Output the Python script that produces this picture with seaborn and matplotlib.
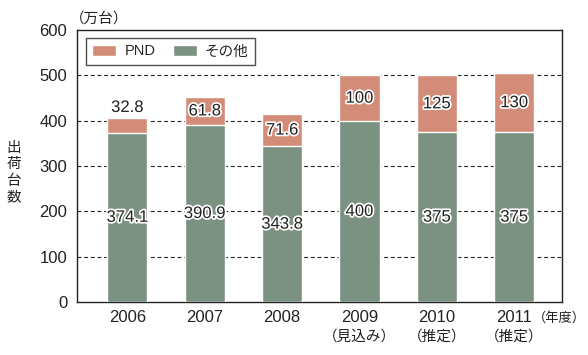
import pandas as pd
import matplotlib
matplotlib.use("Agg")
import matplotlib.pyplot as plt
import matplotlib.patheffects as pe
from matplotlib.patches import Patch
import seaborn as sns

# data (万台)
years = ["2006", "2007", "2008", "2009", "2010", "2011"]
year_notes = ["", "", "", "（見込み）", "（推定）", "（推定）"]
other_units = [374.1, 390.9, 343.8, 400, 375, 375]
pnd_units = [32.8, 61.8, 71.6, 100, 125, 130]
other_labels = ["374.1", "390.9", "343.8", "400", "375", "375"]
pnd_labels = ["32.8", "61.8", "71.6", "100", "125", "130"]

PND_COLOR = "#d38c77"
OTHER_COLOR = "#7b9181"
INK = "#222222"

sns.set_style("white")
plt.rcParams["font.family"] = ["Liberation Sans", "Noto Sans CJK JP", "DejaVu Sans"]

df = pd.DataFrame({
    "year": years,
    "other": other_units,
    "pnd": pnd_units,
})
df["total"] = df["other"] + df["pnd"]

fig = plt.figure(figsize=(5.88, 3.55), dpi=100)
ax = fig.add_axes([0.131, 0.149, 0.825, 0.766])

# stacked bars: total first (PND colour), then other on top of it
sns.barplot(data=df, x="year", y="total", color=PND_COLOR, width=0.52,
            saturation=1, ax=ax, zorder=3)
sns.barplot(data=df, x="year", y="other", color=OTHER_COLOR, width=0.52,
            saturation=1, ax=ax, zorder=3)

ax.set_ylim(0, 600)
ax.set_xlim(-0.65, 5.62)
ax.set_yticks(range(0, 601, 100))
ax.tick_params(axis="both", length=0, labelsize=12, colors=INK)
ax.tick_params(axis="y", pad=7)
ax.tick_params(axis="x", pad=6)
ax.set_xticks(range(len(years)))
ax.set_xticklabels(years)
ax.set_xlabel("")
ax.set_ylabel("")

for y in range(100, 600, 100):
    ax.axhline(y, color=INK, linestyle=(0, (3.5, 2.5)), linewidth=0.8, zorder=1)

for s in ax.spines.values():
    s.set_visible(True)
    s.set_color(INK)
    s.set_linewidth(1.0)

halo = [pe.withStroke(linewidth=2.5, foreground="white")]
for i, row in df.iterrows():
    ax.text(i, row["other"] / 2, other_labels[i], ha="center", va="center",
            fontsize=12, color=INK, path_effects=halo, zorder=5)
    if row["pnd"] < 50:
        ax.text(i, row["total"] + 6, pnd_labels[i], ha="center", va="bottom",
                fontsize=12, color=INK, path_effects=halo, zorder=5)
    else:
        ax.text(i, row["other"] + row["pnd"] / 2, pnd_labels[i], ha="center",
                va="center", fontsize=12, color=INK, path_effects=halo,
                zorder=5)

# second line of the x labels
for i, note in enumerate(year_notes):
    if note:
        ax.annotate(note, xy=(i, 0), xycoords=("data", "axes fraction"),
                    xytext=(0, -20), textcoords="offset points",
                    ha="center", va="top", fontsize=10.5, color=INK)
ax.annotate("（年度）", xy=(5, 0), xycoords=("data", "axes fraction"),
            xytext=(13.6, -11.5), textcoords="offset points",
            ha="left", va="center", fontsize=9.5, color=INK)

fig.text(0.168, 0.949, "（万台）", ha="center", va="center", fontsize=10.5,
         color=INK)
for k, ch in enumerate("出荷台数"):
    fig.text(0.023, 0.583 - k * 0.046, ch, ha="center", va="center",
             fontsize=10.5, color=INK)

handles = [Patch(facecolor=PND_COLOR, label="PND"),
           Patch(facecolor=OTHER_COLOR, label="その他")]
leg = ax.legend(handles=handles, loc="upper left", ncol=2, frameon=True,
                fancybox=False, edgecolor=INK, fontsize=10.5,
                bbox_to_anchor=(0.018, 0.972), handlelength=1.65,
                handleheight=0.75, columnspacing=1.2, borderpad=0.45,
                handletextpad=0.55, borderaxespad=0)
leg.get_frame().set_linewidth(1.0)
leg.set_zorder(6)

fig.savefig("out.png", dpi=100, facecolor="white")
